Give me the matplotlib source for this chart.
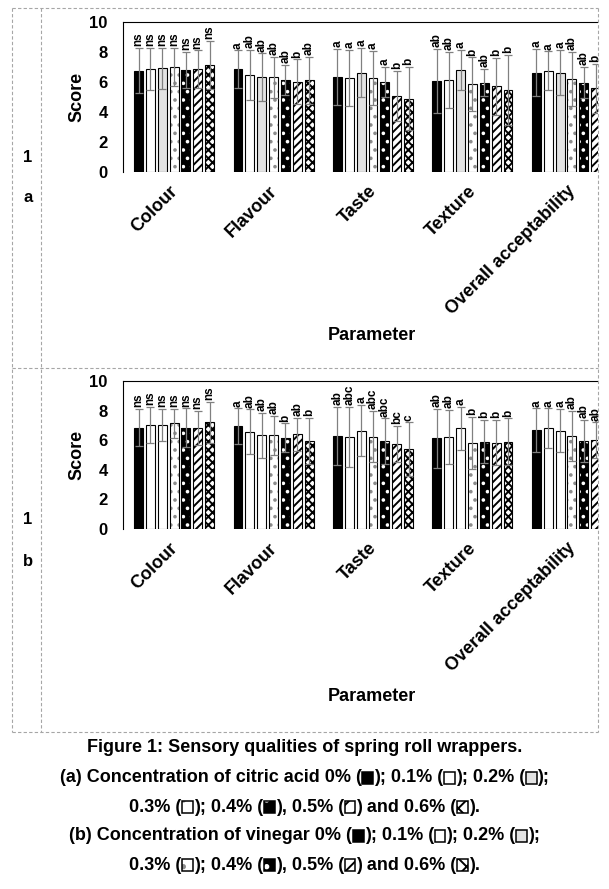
import matplotlib
matplotlib.use('Agg')
import matplotlib.pyplot as plt
import matplotlib.transforms as mtransforms
import numpy as np
from matplotlib.patches import Rectangle
from matplotlib.lines import Line2D
from matplotlib.offsetbox import TextArea, DrawingArea, HPacker, AnnotationBbox

plt.rcParams['font.family'] = ['Liberation Sans', 'DejaVu Sans']
plt.rcParams['font.weight'] = 'bold'
plt.rcParams['hatch.linewidth'] = 1.4

parametros = ['Colour', 'Flavour', 'Taste', 'Texture', 'Overall acceptability']
conc = ['0%', '0.1%', '0.2%', '0.3%', '0.4%', '0.5%', '0.6%']

# (a) acido citrico: filas = parametro, columnas = concentracion
citrico_media = [
    [6.75, 6.85, 6.90, 7.00, 6.80, 6.85, 7.15],
    [6.85, 6.47, 6.30, 6.30, 6.13, 6.00, 6.10],
    [6.34, 6.25, 6.63, 6.25, 6.02, 5.06, 4.88],
    [6.07, 6.13, 6.79, 5.84, 5.96, 5.73, 5.46],
    [6.63, 6.74, 6.63, 6.18, 5.96, 5.57, 5.50],
]
citrico_sd = [
    [1.50, 1.40, 1.35, 1.25, 1.20, 1.25, 1.60],
    [1.25, 1.65, 1.60, 1.35, 1.00, 1.50, 1.55],
    [1.86, 1.88, 1.62, 1.80, 1.00, 1.68, 2.10],
    [2.13, 1.85, 1.34, 1.80, 0.90, 1.90, 2.35],
    [1.57, 1.30, 1.53, 1.80, 1.04, 1.62, 1.70],
]
citrico_letras = [
    ['ns', 'ns', 'ns', 'ns', 'ns', 'ns', 'ns'],
    ['a', 'ab', 'ab', 'ab', 'ab', 'b', 'ab'],
    ['a', 'a', 'a', 'a', 'a', 'b', 'b'],
    ['ab', 'ab', 'a', 'b', 'ab', 'b', 'b'],
    ['a', 'a', 'a', 'ab', 'ab', 'b', 'b'],
]

# (b) vinagre
vinagre_media = [
    [6.85, 7.03, 7.03, 7.14, 6.85, 6.85, 7.20],
    [6.94, 6.58, 6.33, 6.33, 6.17, 6.40, 5.95],
    [6.31, 6.24, 6.64, 6.24, 5.95, 5.74, 5.38],
    [6.13, 6.20, 6.80, 5.83, 5.90, 5.83, 5.90],
    [6.69, 6.80, 6.64, 6.28, 5.95, 6.01, 6.00],
]
vinagre_sd = [
    [1.24, 1.20, 1.07, 1.00, 1.30, 1.15, 1.40],
    [1.21, 1.50, 1.50, 1.33, 0.97, 1.12, 1.57],
    [1.96, 2.03, 1.74, 1.73, 1.53, 1.24, 1.82],
    [1.98, 1.84, 1.47, 1.76, 1.46, 1.53, 1.58],
    [1.46, 1.35, 1.46, 1.69, 1.41, 1.19, 1.30],
]
vinagre_letras = [
    ['ns', 'ns', 'ns', 'ns', 'ns', 'ns', 'ns'],
    ['a', 'ab', 'ab', 'ab', 'b', 'ab', 'b'],
    ['ab', 'abc', 'a', 'abc', 'abc', 'bc', 'c'],
    ['ab', 'ab', 'a', 'b', 'b', 'b', 'b'],
    ['a', 'a', 'a', 'ab', 'ab', 'ab', 'b'],
]

# relleno, trama, color de trama
estilos = [
    ('black', None, None),
    ('white', None, None),
    ('#e3e3e3', None, None),
    ('white', '..', '#8c8c8c'),
    ('black', '..', 'white'),
    ('white', '////', 'black'),
    ('white', 'xxxx', 'black'),
]

W, H = 609, 889
BORDE = 598  # borde derecho visible (px)
paso = 0.119
ancho = 0.09

fig = plt.figure(figsize=(W / 100, H / 100), dpi=100)


def panel(top_px, bot_px, media, sd, letras, gris, param_y):
    ax = fig.add_axes([123 / W, 1 - bot_px / H, 500 / W, (bot_px - top_px) / H])
    ax.set_xlim(-0.513, 4.513)
    ax.set_ylim(0, 10)
    x = np.arange(len(parametros))
    for j in range(len(conc)):
        xs = x + (j - 3) * paso
        m = [media[i][j] for i in range(len(parametros))]
        s = [sd[i][j] for i in range(len(parametros))]
        cara, trama, ctrama = estilos[j]
        if j == 2 and not gris:
            cara = 'white'
        if trama:
            ax.bar(xs, m, ancho, color=cara, edgecolor=ctrama, hatch=trama, linewidth=0)
            ax.bar(xs, m, ancho, facecolor='none', edgecolor='black', linewidth=0.8)
        else:
            ax.bar(xs, m, ancho, color=cara, edgecolor='black', linewidth=0.8)
        ax.errorbar(xs, m, yerr=s, fmt='none', ecolor='#808080', elinewidth=0.9,
                    capsize=3, capthick=0.9)
        for xi, mi, si, t in zip(xs, m, s, [letras[i][j] for i in range(len(parametros))]):
            # la figura original esta recortada por el borde de la tabla
            xpx = ax.transData.transform((xi, 0))[0]
            if xpx > BORDE + 2:
                continue
            ax.text(xi, mi + si + 0.12, t, rotation=90, ha='center', va='bottom',
                    fontsize=8.5, fontweight='bold')
    ax.set_yticks(range(0, 11, 2))
    ax.set_xticks(x)
    ax.set_xticklabels(parametros, rotation=45, ha='right', va='top',
                       rotation_mode='anchor', fontsize=13, fontweight='bold')
    ax.tick_params(axis='both', length=0)
    ax.tick_params(axis='y', pad=11, labelsize=12)
    ax.tick_params(axis='x', pad=4)
    desplaza = mtransforms.ScaledTranslation(-5 / 100, -5 / 100, fig.dpi_scale_trans)
    for t in ax.get_xticklabels():
        t.set_transform(t.get_transform() + desplaza)
    for t in ax.get_yticklabels():
        t.set_fontweight('bold')
    ax.spines['bottom'].set_visible(False)
    ax.spines['right'].set_visible(False)
    ax.set_ylabel('Score', fontsize=13, fontweight='bold')
    ax.yaxis.set_label_coords(-0.076, 0.5)
    ax.text(0.498, param_y, 'Parameter', transform=ax.transAxes, ha='center',
            va='center', fontsize=13, fontweight='bold')
    return ax


panel(22, 172, citrico_media, citrico_sd, citrico_letras, True, -1.093)
panel(381, 529, vinagre_media, vinagre_sd, vinagre_letras, False, -1.135)

# tapar lo que sobresale a la derecha
fig.patches.append(Rectangle((BORDE / W, 0), (W - BORDE) / W, 1, transform=fig.transFigure,
                             facecolor='white', edgecolor='none', zorder=10))

# marco punteado de la tabla
gris_linea = '#a6a6a6'
def linea(x0, y0, x1, y1):
    fig.add_artist(Line2D([x0 / W, x1 / W], [1 - y0 / H, 1 - y1 / H], color=gris_linea,
                          lw=0.8, ls=(0, (3, 2)), zorder=11))

linea(12, 8, BORDE, 8)
linea(12, 732, BORDE, 732)
linea(12, 368, BORDE, 368)
linea(12, 8, 12, 732)
linea(BORDE, 8, BORDE, 732)
linea(41, 8, 41, 732)

for txt, y in [('1', 158), ('a', 198), ('1', 520), ('b', 562)]:
    fig.text(28 / W, 1 - y / H, txt, ha='center', va='center', fontsize=12, fontweight='bold')


# leyenda del pie de figura
def simbolo(j):
    cara, trama, ctrama = estilos[j]
    da = DrawingArea(9, 9.5, 0, 0)
    if trama:
        da.add_artist(Rectangle((0.6, 0.6), 7.8, 8.3, facecolor=cara, edgecolor=ctrama,
                                hatch=trama[:2] if trama != '..' else '.', lw=0))
        da.add_artist(Rectangle((0.6, 0.6), 7.8, 8.3, facecolor='none', edgecolor='black', lw=1.1))
    else:
        da.add_artist(Rectangle((0.6, 0.6), 7.8, 8.3, facecolor=cara, edgecolor='black', lw=1.1))
    return da


def renglon(partes, y):
    hijos = []
    for p in partes:
        if isinstance(p, str):
            hijos.append(TextArea(p, textprops=dict(fontsize=13, fontweight='bold')))
        else:
            hijos.append(simbolo(p))
    caja = HPacker(children=hijos, align='center', pad=0, sep=0)
    ab = AnnotationBbox(caja, (0.5, 1 - y / H), xycoords='figure fraction', frameon=False,
                        box_alignment=(0.5, 0.5), pad=0)
    fig.add_artist(ab)


renglon(['Figure 1: Sensory qualities of spring roll wrappers.'], 747)
renglon(['(a) Concentration of citric acid 0% (', 0, '); 0.1% (', 1, '); 0.2% (', 2, ');'], 778)
renglon(['0.3% (', 3, '); 0.4% (', 4, '), 0.5% (', 5, ') and 0.6% (', 6, ').'], 807)
renglon(['(b) Concentration of vinegar 0% (', 0, '); 0.1% (', 1, '); 0.2% (', 2, ');'], 836)
renglon(['0.3% (', 3, '); 0.4% (', 4, '), 0.5% (', 5, ') and 0.6% (', 6, ').'], 865)

fig.savefig('out.png', dpi=100)
